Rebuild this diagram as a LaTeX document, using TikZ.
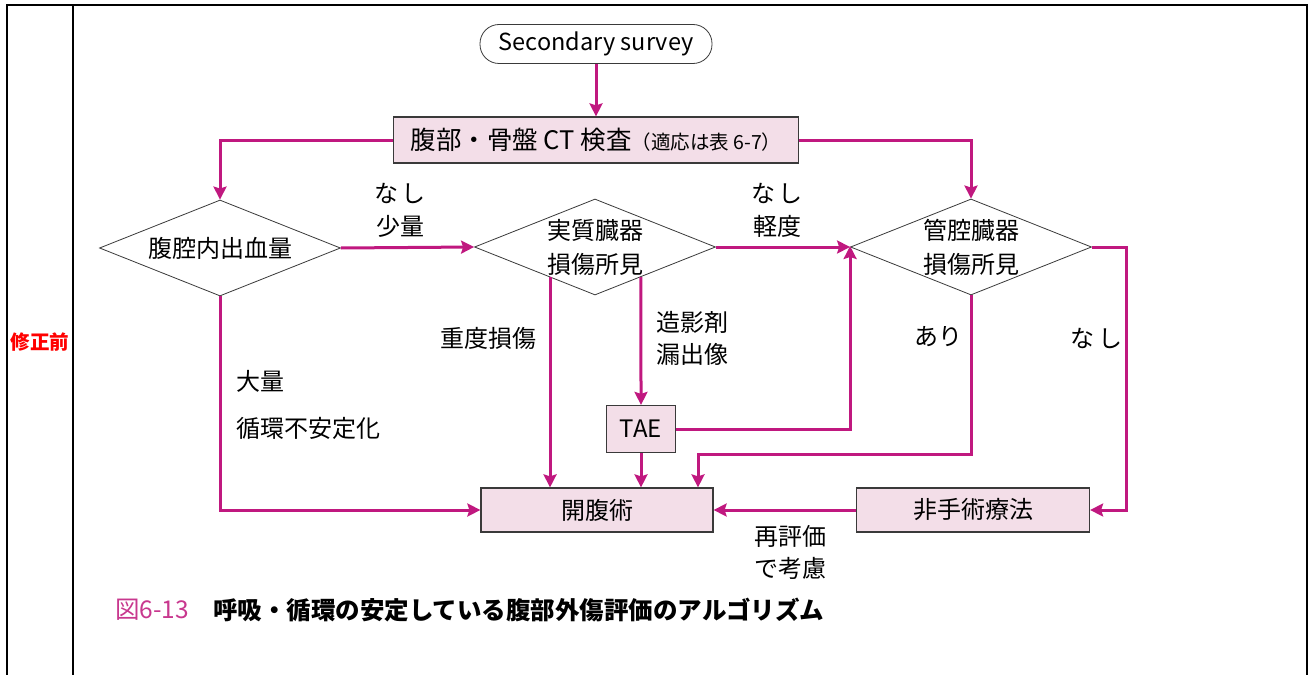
\documentclass[tikz,border=0pt]{standalone}
\usepackage{fontspec}
\setmainfont{Noto Sans CJK JP}
\usetikzlibrary{shapes.geometric,arrows.meta,calc}
\definecolor{mag}{HTML}{C0187F}
\definecolor{capmag}{HTML}{C8388E}
\definecolor{pinkfill}{HTML}{F3DEE8}
\definecolor{boxline}{HTML}{3A3A3A}
\begin{document}
\begin{tikzpicture}[x=1pt,y=-1pt,
 arr/.style={draw=mag,line width=3pt,-{Stealth[length=13pt,width=13pt,inset=2pt]}},
 ln/.style={draw=mag,line width=3pt},
 box/.style={draw=boxline,line width=1.2pt,fill=pinkfill,inner sep=0pt,font=\fontsize{24}{28}\selectfont},
 dia/.style={diamond,draw=boxline,line width=0.8pt,fill=white,inner sep=0pt,aspect=2.5,minimum width=241pt,minimum height=96pt,font=\fontsize{24}{34}\selectfont,align=center},
 lab/.style={font=\fontsize{24}{28}\selectfont,inner sep=0pt}]
\useasboundingbox (0,0) rectangle (1313,674);
% table frame
\draw[line width=2pt] (7,676) -- (7,5) -- (1307,5) -- (1307,676);
\draw[line width=2pt] (73,5) -- (73,676);
\node[text=red,font=\fontsize{19.5}{22}\selectfont\bfseries] (rev) at (40,342) {修正前};
% nodes
\node[draw=boxline,line width=0.8pt,fill=white,rounded corners=19pt,minimum width=232pt,minimum height=39pt,inner sep=0pt,font=\fontsize{23.5}{26}\selectfont] (ss) at (596,44) {Secondary survey};
\node[box,minimum width=405pt,minimum height=46pt,font=\fontsize{25.5}{28}\selectfont] (ct) at (596,140) {腹部・骨盤 CT 検査{\fontsize{19.5}{20}\selectfont（適応は表 6-7）}};
\node[dia] (d1) at (220,248) {腹腔内出血量};
\node[dia] (d2) at (595,247) {実質臓器\\損傷所見};
\node[dia] (d3) at (971,247) {管腔臓器\\損傷所見};
\node[box,minimum width=69pt,minimum height=47pt] (tae) at (641,429) {TAE};
\node[box,minimum width=232pt,minimum height=44pt] (kai) at (597,510) {開腹術};
\node[box,minimum width=233pt,minimum height=44pt] (hi) at (973,510) {非手術療法};
% labels
\node[lab] (l1) at (400,193) {な\hspace{4pt}し};
\node[lab] (l2) at (400,226) {少量};
\node[lab] (l3) at (777,193) {な\hspace{4pt}し};
\node[lab] (l4) at (777,226) {軽度};
\node[lab] (l5) at (488,338) {重度損傷};
\node[lab] (l6) at (692,322) {造影剤};
\node[lab] (l7) at (692,354) {漏出像};
\node[lab,anchor=west] (l8) at (236,381) {大量};
\node[lab,anchor=west] (l9) at (236,428) {循環不安定化};
\node[lab] (l10) at (938,337) {あり};
\node[lab] (l11) at (1096,338) {な\hspace{4pt}し};
\node[lab] (l12) at (790,536) {再評価};
\node[lab] (l13) at (790,568) {で考慮};
% caption
\node[anchor=west,inner sep=0pt,text=capmag,font=\fontsize{24.5}{28}\selectfont] (capn) at (115,610) {図6-13};
\node[anchor=west,inner sep=0pt,font=\fontsize{24.5}{28}\selectfont\bfseries] (capt) at (213,610) {呼吸・循環の安定している腹部外傷評価のアルゴリズム};
% connectors
\draw[arr] (ss) -- (ct);
\draw[arr] (ct.west) -| (d1.north);
\draw[arr] (ct.east) -| (d3.north);
\draw[arr] (d1.east) -- (d2.west);
\draw[arr] (d2.east) -- (d3.west);
\draw[arr] (d1.south) |- (kai.west);
\coordinate (p1) at ($(d2.west)!0.628!(d2.south)$);
\coordinate (p2) at ($(d2.south)!0.38!(d2.east)$);
\draw[arr] (p1) -- (p1 |- kai.north);
\draw[arr] (p2) -- (tae.north);
\draw[arr] (tae.south) -- (tae.south |- kai.north);
\draw[arr] (tae.east) -| ([yshift=1pt]d3.west);
\coordinate (j1) at (698,454);
\draw[arr] (d3.south) |- (j1) -- (j1 |- kai.north);
\coordinate (j2) at (1126,247);
\draw[arr] (d3.east) -- (j2) |- (hi.east);
\draw[arr] (hi.west) -- (kai.east);
\end{tikzpicture}
\end{document}
